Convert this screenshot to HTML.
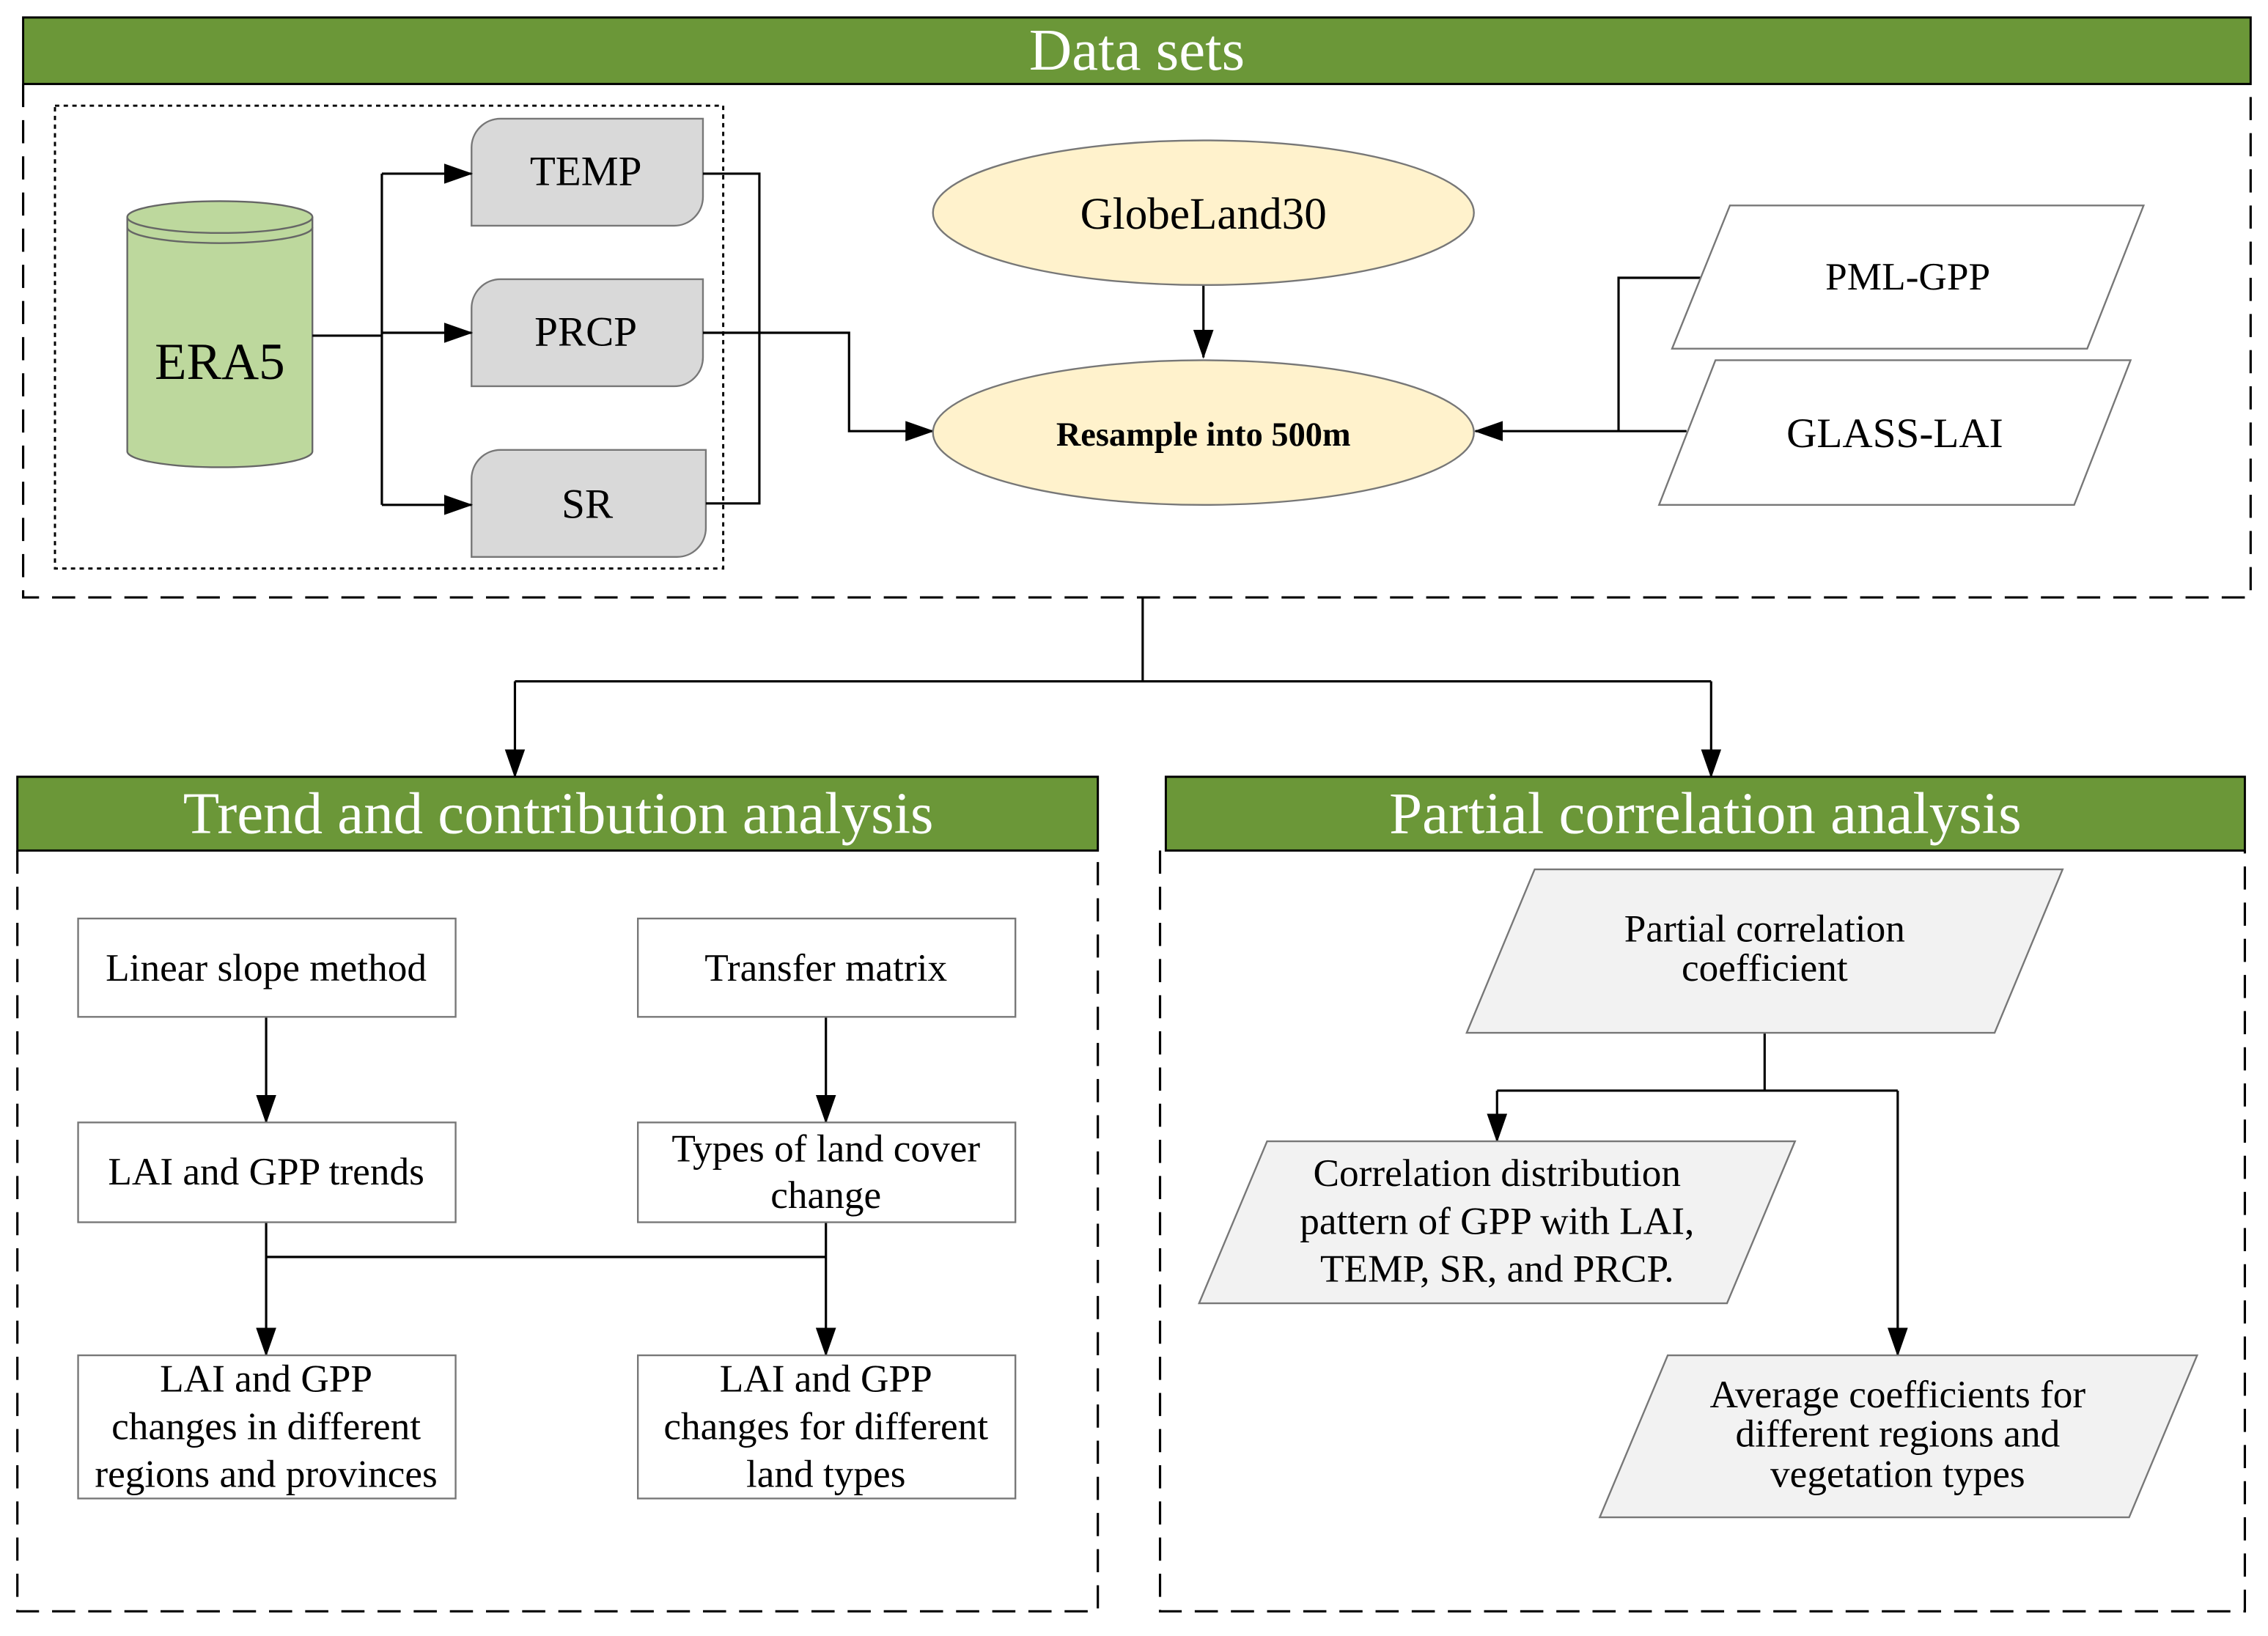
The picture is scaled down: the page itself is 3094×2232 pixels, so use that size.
<!DOCTYPE html>
<html><head><meta charset="utf-8"><style>html,body{margin:0;padding:0;background:#fff}svg{display:block}</style></head><body>
<svg width="3094" height="2232" viewBox="0 0 1568 1131" xmlns="http://www.w3.org/2000/svg" font-family="'Liberation Serif', serif">
<defs><marker id="a" markerWidth="20" markerHeight="14" refX="19" refY="7" orient="auto" markerUnits="userSpaceOnUse"><path d="M0,0 L20,7 L0,14 z" fill="#000"/></marker></defs>
<g fill="none" stroke="#000" stroke-width="1.6" stroke-dasharray="16,9">
<path d="M16,58 V413 H1556 V58"/>
<path d="M12,588 V1114 H759 V588"/>
<path d="M802,588 V1114 H1552 V588"/>
</g>
<rect x="16" y="12" width="1540" height="46" fill="#6B9738" stroke="#000" stroke-width="1.5"/>
<text x="786" y="48" font-size="41" fill="#fff" text-anchor="middle">Data sets</text>
<rect x="12" y="537" width="747" height="51" fill="#6B9738" stroke="#000" stroke-width="1.5"/>
<text x="386" y="576" font-size="41" fill="#fff" text-anchor="middle">Trend and contribution analysis</text>
<rect x="806" y="537" width="746" height="51" fill="#6B9738" stroke="#000" stroke-width="1.5"/>
<text x="1179" y="576" font-size="41" fill="#fff" text-anchor="middle">Partial correlation analysis</text>
<rect x="38" y="73" width="462" height="320" fill="none" stroke="#000" stroke-width="1.5" stroke-dasharray="3,3"/>
<path d="M88,150 V312 A64,11 0 0 0 216,312 V150" fill="#BDD89D" stroke="#666" stroke-width="1.2"/>
<ellipse cx="152" cy="150" rx="64" ry="11" fill="#BDD89D" stroke="#666" stroke-width="1.2"/>
<path d="M88,157 A64,11 0 0 0 216,157" fill="none" stroke="#666" stroke-width="1.2"/>
<text x="152" y="262" font-size="36" text-anchor="middle">ERA5</text>
<g fill="#D9D9D9" stroke="#777" stroke-width="1.2">
<path d="M346,82 H486 V136 A20,20 0 0 1 466,156 H326 V102 A20,20 0 0 1 346,82 Z"/>
<path d="M346,193 H486 V247 A20,20 0 0 1 466,267 H326 V213 A20,20 0 0 1 346,193 Z"/>
<path d="M346,311 H488 V365 A20,20 0 0 1 468,385 H326 V331 A20,20 0 0 1 346,311 Z"/>
</g>
<g font-size="29" text-anchor="middle">
<text x="405" y="128">TEMP</text><text x="405" y="239">PRCP</text><text x="406" y="358">SR</text>
</g>
<g fill="none" stroke="#000" stroke-width="1.6">
<path d="M216,232 H264"/><path d="M264,120 V349"/>
<path d="M264,120 H326" marker-end="url(#a)"/><path d="M264,230 H326" marker-end="url(#a)"/><path d="M264,349 H326" marker-end="url(#a)"/>
<path d="M486,120 H525 V348 H488"/>
<path d="M486,230 H587 V298 H645" marker-end="url(#a)"/>
<path d="M832,197 V247" marker-end="url(#a)"/>
<path d="M1176,192 H1119 V298"/><path d="M1166,298 H1020" marker-end="url(#a)"/>
<path d="M790,413 V471 M356,471 H1183"/>
<path d="M356,471 V537" marker-end="url(#a)"/><path d="M1183,471 V537" marker-end="url(#a)"/>
<path d="M184,703 V776" marker-end="url(#a)"/><path d="M571,703 V776" marker-end="url(#a)"/>
<path d="M184,845 V937" marker-end="url(#a)"/><path d="M571,845 V937" marker-end="url(#a)"/>
<path d="M184,869 H571"/>
<path d="M1220,714 V754 M1035,754 H1312"/>
<path d="M1035,754 V789" marker-end="url(#a)"/><path d="M1312,754 V937" marker-end="url(#a)"/>
</g>
<ellipse cx="832" cy="147" rx="187" ry="50" fill="#FFF2CC" stroke="#777" stroke-width="1.2"/>
<text x="832" y="158" font-size="31" text-anchor="middle">GlobeLand30</text>
<ellipse cx="832" cy="299" rx="187" ry="50" fill="#FFF2CC" stroke="#777" stroke-width="1.2"/>
<text x="832" y="308" font-size="23.5" font-weight="bold" text-anchor="middle">Resample into 500m</text>
<g fill="#fff" stroke="#777" stroke-width="1.2">
<polygon points="1196,142 1482,142 1443,241 1156,241"/>
<polygon points="1186,249 1473,249 1434,349 1147,349"/>
</g>
<text x="1319" y="200" font-size="27" text-anchor="middle">PML-GPP</text>
<text x="1310" y="309" font-size="29" text-anchor="middle">GLASS-LAI</text>
<g fill="#fff" stroke="#777" stroke-width="1.2">
<rect x="54" y="635" width="261" height="68"/><rect x="441" y="635" width="261" height="68"/>
<rect x="54" y="776" width="261" height="69"/><rect x="441" y="776" width="261" height="69"/>
<rect x="54" y="937" width="261" height="99"/><rect x="441" y="937" width="261" height="99"/>
</g>
<g font-size="27" text-anchor="middle">
<text x="184" y="678">Linear slope method</text>
<text x="571" y="678">Transfer matrix</text>
<text x="184" y="819">LAI and GPP trends</text>
<text x="571" y="803">Types of land cover</text><text x="571" y="835">change</text>
<text x="184" y="962">LAI and GPP</text><text x="184" y="995">changes in different</text><text x="184" y="1028">regions and provinces</text>
<text x="571" y="962">LAI and GPP</text><text x="571" y="995">changes for different</text><text x="571" y="1028">land types</text>
</g>
<g fill="#F2F2F2" stroke="#777" stroke-width="1.2">
<polygon points="1061,601 1426,601 1379,714 1014,714"/>
<polygon points="876,789 1241,789 1194,901 829,901"/>
<polygon points="1153,937 1519,937 1472,1049 1106,1049"/>
</g>
<g font-size="27" text-anchor="middle">
<text x="1220" y="651">Partial correlation</text><text x="1220" y="678">coefficient</text>
<text x="1035" y="820">Correlation distribution</text><text x="1035" y="853">pattern of GPP with LAI,</text><text x="1035" y="886">TEMP, SR, and PRCP.</text>
<text x="1312" y="973">Average coefficients for</text><text x="1312" y="1000">different regions and</text><text x="1312" y="1028">vegetation types</text>
</g>
</svg>
</body></html>
